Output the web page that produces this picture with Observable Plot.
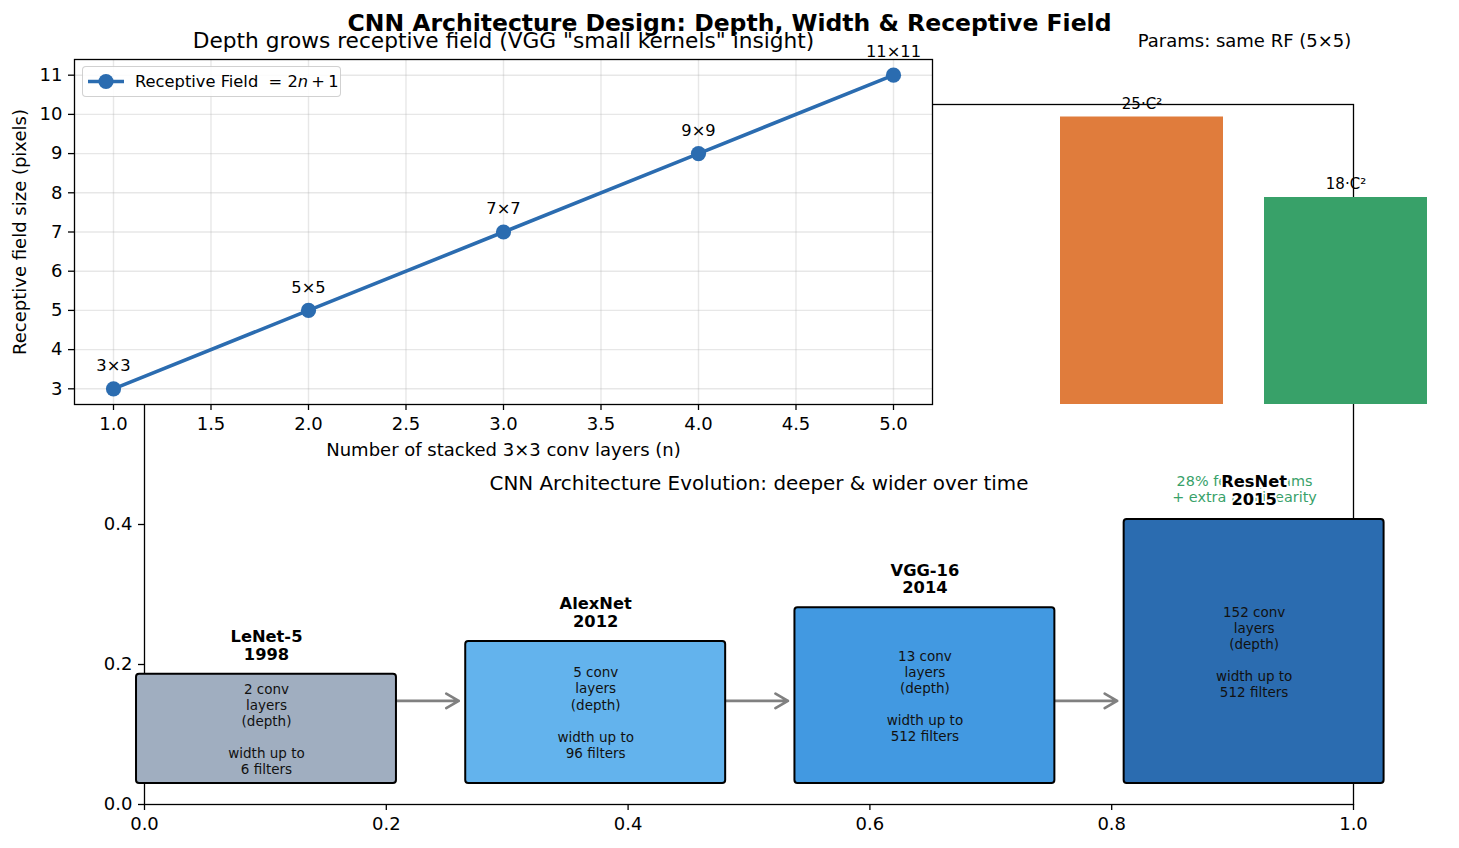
<!DOCTYPE html>
<html>
<head>
<meta charset="utf-8">
<script src="https://cdn.jsdelivr.net/npm/d3@7"></script>
<script src="https://cdn.jsdelivr.net/npm/@observablehq/plot@0.6"></script>
<style>
  body { margin: 0; background: #fff; }
  #chart { position: relative; width: 1459px; height: 848px; overflow: hidden; background: #fff;
           font-family: "DejaVu Sans", sans-serif; color: #000; }
  #chart > svg { position: absolute; left: 0; top: 0; }
  #suptitle { position: absolute; left: 0; top: 9px; width: 1459px; text-align: center;
              font-weight: bold; font-size: 23.5px; line-height: 28px; }
  #legend { position: absolute; left: 82px; top: 66px; width: 259px; height: 31px; box-sizing: border-box;
            border: 1px solid rgba(0,0,0,0.18); border-radius: 4px; background: rgba(255,255,255,0.85); }
  #legend svg { position: absolute; left: 0; top: 0; }
  #legend span { position: absolute; left: 52px; top: 0; line-height: 29px; font-size: 16.3px; white-space: pre; }
</style>
</head>
<body>
<div id="chart"></div>
<script>
const W = 1459, H = 848;

// Receptive field of n stacked 3×3 convolutions
const stackedLayers = [1, 2, 3, 4, 5];
const receptiveField = [3, 5, 7, 9, 11];
const rfLabels = ["3×3", "5×5", "7×7", "9×9", "11×11"];

// Weights needed for a 5×5 receptive field, in units of C²
const kernelOptions = ["one 5×5 conv", "two 3×3 convs"];
const paramCounts = [25, 18];
const paramLabels = ["25·C²", "18·C²"];
const paramColors = ["#e07c3c", "#38a169"];

// Architecture timeline
const archNames = ["LeNet-5", "AlexNet", "VGG-16", "ResNet"];
const archYears = [1998, 2012, 2014, 2015];
const archConvLayers = [2, 5, 13, 152];
const archMaxFilters = [6, 96, 512, 512];
const archBoxHeights = [0.156, 0.203, 0.251, 0.377];
const archColors = ["#a0aec0", "#63b3ed", "#4299e1", "#2b6cb0"];

const lineColor = "#2b6cb0";
const font = "DejaVu Sans";
const fmt1 = d3.format(".1f");

const rfData = stackedLayers.map((n, i) => ({n, rf: receptiveField[i], label: rfLabels[i]}));
const paramData = kernelOptions.map((k, i) => ({option: k, count: paramCounts[i], label: paramLabels[i], color: paramColors[i]}));

// timeline boxes laid out left to right in the lower panel's unit square
const boxBase = 0.03, boxWidth = 0.215, boxStep = 0.2723, boxStart = -0.0066;
const archData = archNames.map((name, i) => {
  const x1 = boxStart + i * boxStep;
  const y2 = boxBase + archBoxHeights[i];
  return {
    name, x1, x2: x1 + boxWidth, xc: x1 + boxWidth / 2, y1: boxBase, y2, yc: (boxBase + y2) / 2,
    fill: archColors[i],
    title: `${name}\n${archYears[i]}`,
    detail: `${archConvLayers[i]} conv\nlayers\n(depth)\n\u00a0\nwidth up to\n${archMaxFilters[i]} filters`
  };
});
const arrowY = 0.148;
const arrowData = d3.pairs(archData).map(([a, b]) => ({x1: a.x2, x2: b.x1, y: arrowY}));

const baseStyle = {background: "transparent", fontFamily: font, fontSize: "18px", color: "#000", overflow: "visible"};

// lower panel frame geometry (shared by its two layers)
const lower = {left: 144, right: W - 1353, top: 104, bottom: H - 804};
const unitTicks = [0, 0.2, 0.4, 0.6, 0.8, 1.0];

const lowerBase = Plot.plot({
  width: W, height: H,
  marginLeft: lower.left, marginRight: lower.right, marginTop: lower.top, marginBottom: lower.bottom,
  style: baseStyle,
  x: {domain: [0, 1]},
  y: {domain: [0, 1]},
  marks: [
    Plot.frame({stroke: "#000", strokeWidth: 1.3}),
    Plot.axisX({ticks: unitTicks, tickFormat: fmt1, tickSize: 6, tickPadding: 7, strokeWidth: 1.3, label: null}),
    Plot.axisY({ticks: unitTicks, tickFormat: fmt1, tickSize: 6, tickPadding: 6, strokeWidth: 1.3, label: null})
  ]
});

// upper-left panel: receptive field vs depth
const depthPlot = Plot.plot({
  width: W, height: H,
  marginLeft: 74, marginRight: W - 932, marginTop: 59, marginBottom: H - 404,
  style: baseStyle,
  x: {domain: [0.8, 5.2]},
  y: {domain: [2.6, 11.4]},
  marks: [
    Plot.frame({fill: "#fff"}),
    Plot.gridX({ticks: d3.range(1, 5.01, 0.5), stroke: "#b0b0b0", strokeOpacity: 0.3, strokeWidth: 1.4}),
    Plot.gridY({ticks: d3.range(3, 12), stroke: "#b0b0b0", strokeOpacity: 0.3, strokeWidth: 1.4}),
    Plot.frame({stroke: "#000", strokeWidth: 1.3}),
    Plot.axisX({ticks: d3.range(1, 5.01, 0.5), tickFormat: fmt1, tickSize: 6, tickPadding: 7, strokeWidth: 1.3, label: null}),
    Plot.axisY({ticks: d3.range(3, 12), tickSize: 6, tickPadding: 6, strokeWidth: 1.3, label: null}),
    Plot.line(rfData, {x: "n", y: "rf", stroke: lineColor, strokeWidth: 3.6}),
    Plot.dot(rfData, {x: "n", y: "rf", r: 7.6, fill: lineColor}),
    Plot.text(rfData, {x: "n", y: "rf", text: "label", dy: -23, fontSize: 16.3}),
    Plot.text(["Depth grows receptive field (VGG \"small kernels\" insight)"],
              {frameAnchor: "top", lineAnchor: "middle", dy: -18, fontSize: 21.7}),
    Plot.text(["Number of stacked 3×3 conv layers (n)"], {frameAnchor: "bottom", lineAnchor: "middle", dy: 46}),
    Plot.text(["Receptive field size (pixels)"],
              {frameAnchor: "left", textAnchor: "middle", lineAnchor: "middle", dx: -54, rotate: -90})
  ]
});

// upper-right panel: parameter cost for the same receptive field
const paramPlot = Plot.plot({
  width: W, height: H,
  marginLeft: 1042, marginRight: W - 1446, marginTop: 59, marginBottom: H - 404,
  style: baseStyle,
  x: {domain: kernelOptions, paddingInner: 0.2, paddingOuter: 0.09, axis: null},
  y: {domain: [0, 30], axis: null},
  color: {type: "identity"},
  marks: [
    Plot.barY(paramData, {x: "option", y: "count", fill: "color"}),
    Plot.text(paramData, {x: "option", y: "count", text: "label", dy: -13, fontSize: 15}),
    Plot.text(["Params: same RF (5×5)"], {frameAnchor: "top", lineAnchor: "middle", dy: -18, fontSize: 18}),
    Plot.text(["28% fewer params\n+ extra nonlinearity"],
              {frameAnchor: "bottom", lineAnchor: "middle", dy: 84, fontSize: 14.4, lineHeight: 1.15, fill: "#38a169"})
  ]
});

// lower panel contents: architecture boxes, arrows and labels
const lowerContent = Plot.plot({
  width: W, height: H,
  marginLeft: lower.left, marginRight: lower.right, marginTop: lower.top, marginBottom: lower.bottom,
  style: baseStyle,
  x: {domain: [0, 1], axis: null},
  y: {domain: [0, 1], axis: null},
  color: {type: "identity"},
  marks: [
    Plot.arrow(arrowData, {x1: "x1", x2: "x2", y1: "y", y2: "y", stroke: "#808080", strokeWidth: 2.7,
                           headLength: 8, headAngle: 60, insetEnd: 7, insetStart: -3}),
    Plot.rect(archData, {x1: "x1", x2: "x2", y1: "y1", y2: "y2", fill: "fill", stroke: "#000", strokeWidth: 2, rx: 3}),
    Plot.text(archData, {x: "xc", y: "yc", text: "detail", fontSize: 13.5, lineHeight: 1.19, fill: "#111"}),
    Plot.text(archData, {x: "xc", y: "y2", text: "title", dy: -29, fontSize: 16.3, fontWeight: "bold",
                         lineHeight: 1.07, fill: "#000", stroke: "#fff", strokeWidth: 4, paintOrder: "stroke"}),
    Plot.text(["CNN Architecture Evolution: deeper & wider over time"],
              {frameAnchor: "top", lineAnchor: "middle", dx: 10, dy: 379, fontSize: 19.9})
  ]
});

const chart = document.getElementById("chart");
chart.append(lowerBase, depthPlot, paramPlot, lowerContent);

// legend for the receptive-field line
const legend = document.createElement("div");
legend.id = "legend";
legend.innerHTML =
  `<svg width="50" height="29"><line x1="5" x2="41" y1="14.5" y2="14.5" stroke="${lineColor}" stroke-width="3.6"/>` +
  `<circle cx="23" cy="14.5" r="7.6" fill="${lineColor}"/></svg>` +
  `<span>Receptive Field  = 2<i>n</i>\u2009+\u20091</span>`;
chart.append(legend);

const sup = document.createElement("div");
sup.id = "suptitle";
sup.textContent = "CNN Architecture Design: Depth, Width & Receptive Field";
chart.append(sup);
</script>
</body>
</html>
